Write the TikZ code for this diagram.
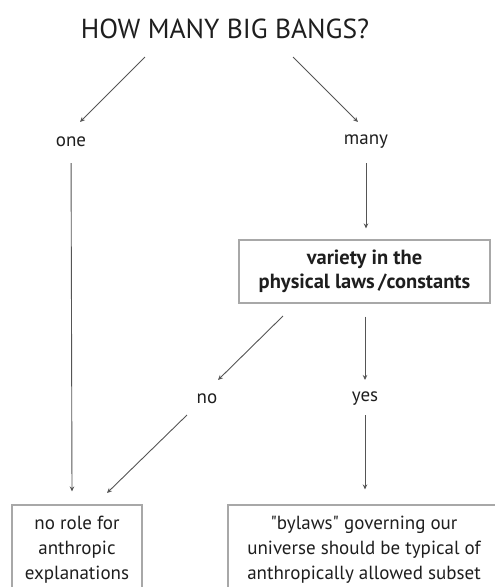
\documentclass[tikz,border=0pt]{standalone}
\usepackage{fontspec}
\setmainfont{PT Sans}
\newfontfamily\qfont[Ligatures=ResetAll]{PT Sans}
\newcommand{\sq}{{\qfont\symbol{34}}}
\usetikzlibrary{arrows.meta}
\definecolor{txt}{HTML}{1E1E1E}
\definecolor{ln}{HTML}{555555}
\definecolor{bx}{HTML}{A8A8A8}
\begin{document}
\begin{tikzpicture}[x=1pt,y=-1pt,
  lbl/.style={text=txt, font=\fontsize{19}{25}\selectfont, inner sep=0pt, align=center},
  ttl/.style={text=txt, font=\fontsize{27.5}{30}\selectfont, inner sep=0pt},
  arr/.style={draw=ln, line width=0.9pt, -{Stealth[length=5pt,width=4.5pt]}},
  box/.style={draw=bx, line width=1.1pt, inner sep=0pt, align=center}]
\useasboundingbox (0,0) rectangle (495,587);
\clip (0,0) rectangle (495,587);
\node[ttl] (title) at (225,29) {HOW MANY BIG BANGS?};
\node[lbl] (one) at (71,142) {one};
\node[lbl] (many) at (366,142) {many};
\node[box, minimum width=251pt, minimum height=63pt, text=txt,
      font=\fontsize{20.5}{24}\selectfont\bfseries] (var) at (364.5,271.5)
      {variety in the\\physical laws\,/constants};
\node[lbl] (no) at (207,399) {no};
\node[lbl] (yes) at (365,399) {yes};
\node[box, lbl, minimum width=130pt, minimum height=90pt, draw=bx] (lbox) at (77,550)
      {no role for\\anthropic\\explanations};
\node[box, lbl, minimum width=272pt, minimum height=90pt, draw=bx] (rbox) at (364,550)
      {\sq bylaws\sq{} governing our\\universe should be typical of\\anthropically allowed subset};
% connector ends
\coordinate (t1) at (145,57);   \coordinate (one-in) at (80,122);
\coordinate (t2) at (293,57);   \coordinate (many-in) at (358,122);
\coordinate (v1) at (283,316);  \coordinate (no-in) at (218,380);
\coordinate (n1) at (187,415);  \coordinate (lb-in) at (107,493);
\draw[arr] (t1) -- (one-in);
\draw[arr] (t2) -- (many-in);
\draw[arr] (v1) -- (no-in);
\draw[arr] (n1) -- (lb-in);
\draw[arr, shorten <=21pt] (one.center) -- ([shift={(-5,-13)}]lbox.north);
\draw[arr, shorten <=21pt, shorten >=11pt] (many.center) -- (var.north -| many.center);
\draw[arr, shorten <=13pt, shorten >=19pt] (var.south -| yes.center) -- (yes.center);
\draw[arr, shorten <=16pt, shorten >=15pt] (yes.center) -- (rbox.north -| yes.center);
\end{tikzpicture}
\end{document}
